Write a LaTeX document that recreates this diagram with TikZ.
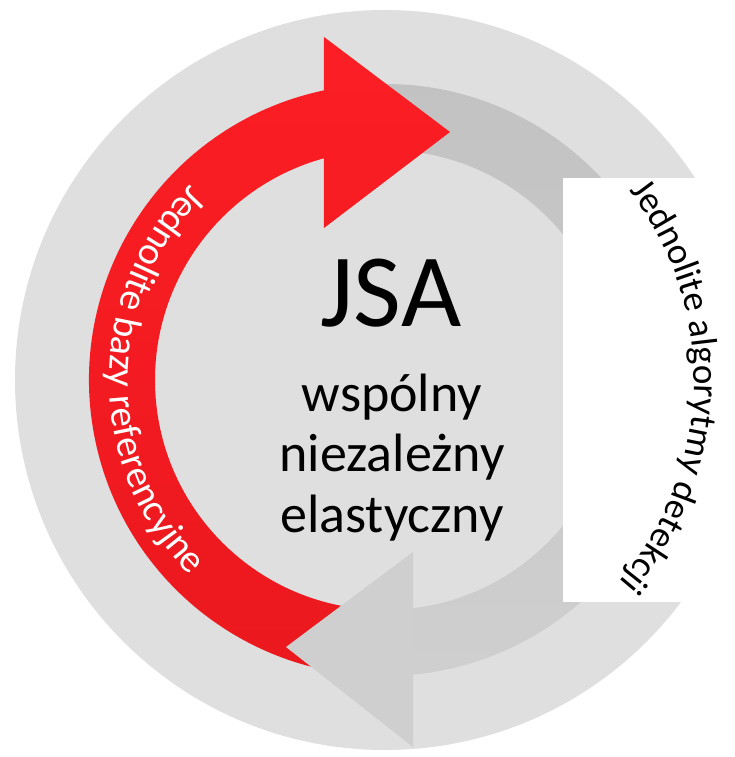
\documentclass[tikz,border=0pt]{standalone}
\usepackage{fontspec}
\setmainfont{Carlito}
\usepackage{xcolor}
\usetikzlibrary{decorations.text}
\definecolor{tarcza}{RGB}{223,223,223}
\definecolor{szary}{RGB}{207,207,207}
\definecolor{szaryciemny}{RGB}{194,194,194}
\definecolor{czerwony}{RGB}{252,30,36}
\definecolor{czerwonyciemny}{RGB}{234,24,30}

\begin{document}
\begin{tikzpicture}[x=1pt,y=1pt,
		cecha/.style={anchor=base, font=\fontsize{54}{60}\selectfont}]
	\useasboundingbox (-385,-377) rectangle (350,380);
	\clip (-385,-377) rectangle (350,380);
	% Draw the disc
	\fill[tarcza] (0,0) circle (370);
	
	% Grey arrow (shaft first, head after the red one)
	\shade[top color=szaryciemny, bottom color=szary] (95:296) arc (95:-85.5:296)
		-- (-84:230) arc (-84:95:230) -- cycle;
	% Red arrow
	\shade[top color=czerwony, bottom color=czerwonyciemny] (101.9:296) arc (101.9:273:296)
		-- (273:230) arc (273:105.4:230) -- (-61,152) -- (65,248) -- (-61,343) -- cycle;
	\fill[szary] (28,-172) -- (-99,-267) -- (28,-367) -- cycle;
	
	% White box on the right
	\fill[white] (178,-222) rectangle (350,202);
	
	% Labels along the arcs
	\path[decorate, decoration={text along path, text align=center, text color=white,
		text={|\fontsize{39}{39}\selectfont|Jednolite bazy referencyjne}}]
		(130:276) arc (130:230:276);
	\path[decorate, decoration={text along path, text align=center,
		text={|\fontsize{37}{37}\selectfont|Jednolite algorytmy detekcji}}]
		(42:309) arc (42:-45:309);
	
	% Labels
	\node[anchor=base, font=\fontsize{104}{104}\selectfont] (jsa) at (6,53) {JSA};
	\node[cecha] (wspolny) at (7,-32) {wspólny};
	\node[cecha] (niezalezny) at (7,-92) {niezależny};
	\node[cecha] (elastyczny) at (7,-152) {elastyczny};
\end{tikzpicture}
\end{document}
